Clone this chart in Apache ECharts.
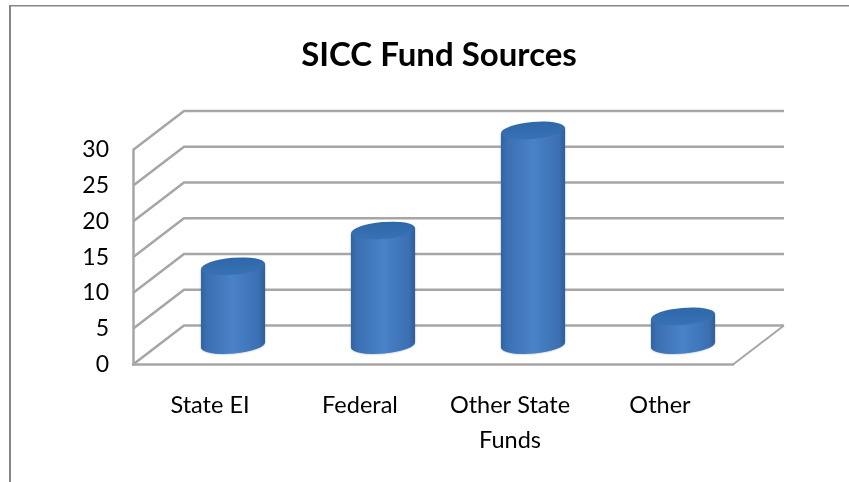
<!DOCTYPE html>
<html>
<head>
<meta charset="utf-8">
<style>
  html, body { margin: 0; padding: 0; background: #fff; }
  #chart { width: 849px; height: 482px; }
</style>
<script src="https://cdn.jsdelivr.net/npm/echarts@6/dist/echarts.min.js"></script>
</head>
<body>
<div id="chart"></div>
<script>
  var categories = ['State EI', 'Federal', 'Other State\nFunds', 'Other'];
  var fundValues = [11, 16, 30, 4];
  var yTicks = [0, 5, 10, 15, 20, 25, 30];

  // fake 3d box, offset of the back wall from the front axis
  var depthX = 51;
  var depthY = 39;
  var gridColor = '#a6a6a6';

  var myChart = echarts.init(document.getElementById('chart'));

  // one line of the wall: diagonal on the side, then across the back
  function renderWall(params, api) {
    var y = api.coord([0, api.value(1)])[1];
    var rect = params.coordSys;
    var children = [{
      type: 'polyline',
      shape: {
        points: [[rect.x, y], [rect.x + depthX, y - depthY], [rect.x + rect.width + depthX, y - depthY]]
      },
      style: { fill: null, stroke: gridColor, lineWidth: 2.5 }
    }];
    if (api.value(1) === 0) {
      // floor edge on the right
      children.push({
        type: 'line',
        shape: {
          x1: rect.x + rect.width, y1: y,
          x2: rect.x + rect.width + depthX, y2: y - depthY
        },
        style: { stroke: gridColor, lineWidth: 2 }
      });
    }
    return { type: 'group', children: children };
  }

  function renderCylinder(params, api) {
    var top = api.coord([api.value(0), api.value(1)]);
    var base = api.coord([api.value(0), 0]);
    var cx = top[0] + depthX / 2 - 0.5;
    var topY = top[1] - depthY / 2;
    var baseY = base[1] - depthY / 2;
    var rx = 32;
    var ry = 8.5;
    var tilt = 2.8;
    var arc = 'A' + rx + ' ' + ry + ' -5 0 1 ';

    var body = 'M' + (cx - rx) + ' ' + (topY + tilt) +
      'L' + (cx + rx) + ' ' + (topY - tilt) +
      'L' + (cx + rx) + ' ' + (baseY - tilt) +
      arc + (cx - rx) + ' ' + (baseY + tilt) + 'Z';
    var cap = 'M' + (cx - rx) + ' ' + (topY + tilt) +
      arc + (cx + rx) + ' ' + (topY - tilt) +
      arc + (cx - rx) + ' ' + (topY + tilt) + 'Z';

    return {
      type: 'group',
      children: [{
        type: 'path',
        shape: { pathData: body, layout: 'none' },
        style: {
          fill: new echarts.graphic.LinearGradient(0, 0, 1, 0, [
            { offset: 0, color: '#31639f' },
            { offset: 0.1, color: '#3b70b2' },
            { offset: 0.5, color: '#4a82c8' },
            { offset: 0.9, color: '#3b70b2' },
            { offset: 1, color: '#305d96' }
          ]),
          shadowBlur: 2,
          shadowColor: 'rgba(50,90,140,0.6)'
        }
      }, {
        type: 'path',
        shape: { pathData: cap, layout: 'none' },
        style: {
          fill: new echarts.graphic.LinearGradient(0, 0, 0, 1, [
            { offset: 0, color: '#2e68a8' },
            { offset: 1, color: '#3872b6' }
          ])
        }
      }]
    };
  }

  var options = {
    animation: false,
    backgroundColor: '#fff',
    title: {
      text: 'SICC Fund Sources',
      left: 434,
      top: 34,
      textAlign: 'center',
      textStyle: {
        fontFamily: 'Lato',
        fontSize: 33,
        fontWeight: 'bold',
        color: '#000'
      }
    },
    grid: { left: 133, right: 116, top: 150, bottom: 117.5 },
    xAxis: {
      type: 'category',
      data: categories,
      axisLine: { show: true, lineStyle: { color: gridColor, width: 2.5 } },
      axisTick: { show: false },
      axisLabel: {
        interval: 0,
        margin: 23,
        padding: [0, 0, 0, 4],
        fontFamily: 'Lato',
        fontSize: 23.5,
        lineHeight: 35,
        color: '#000'
      }
    },
    yAxis: {
      type: 'value',
      min: 0,
      max: 30,
      interval: 5,
      axisLine: { show: true, lineStyle: { color: gridColor, width: 2.5 } },
      axisTick: { show: false },
      splitLine: { show: false },
      axisLabel: {
        margin: 24,
        padding: [6, 0, 0, 0],
        fontFamily: 'Lato',
        fontSize: 23,
        color: '#000'
      }
    },
    graphic: [
      // outer frame, only top and left are visible
      { type: 'rect', shape: { x: 9, y: 5, width: 840, height: 1.5 }, style: { fill: '#868686' }, silent: true },
      { type: 'rect', shape: { x: 9, y: 5, width: 2, height: 477 }, style: { fill: '#868686' }, silent: true }
    ],
    series: [{
      name: 'wall',
      type: 'custom',
      renderItem: renderWall,
      encode: { x: 0, y: 1 },
      data: yTicks.map(function (t) { return [0, t]; }),
      z: 1,
      silent: true
    }, {
      name: 'Fund Sources',
      type: 'custom',
      renderItem: renderCylinder,
      encode: { x: 0, y: 1 },
      data: fundValues.map(function (v, i) { return [i, v]; }),
      z: 3
    }]
  };

  myChart.setOption(options);
</script>
</body>
</html>
